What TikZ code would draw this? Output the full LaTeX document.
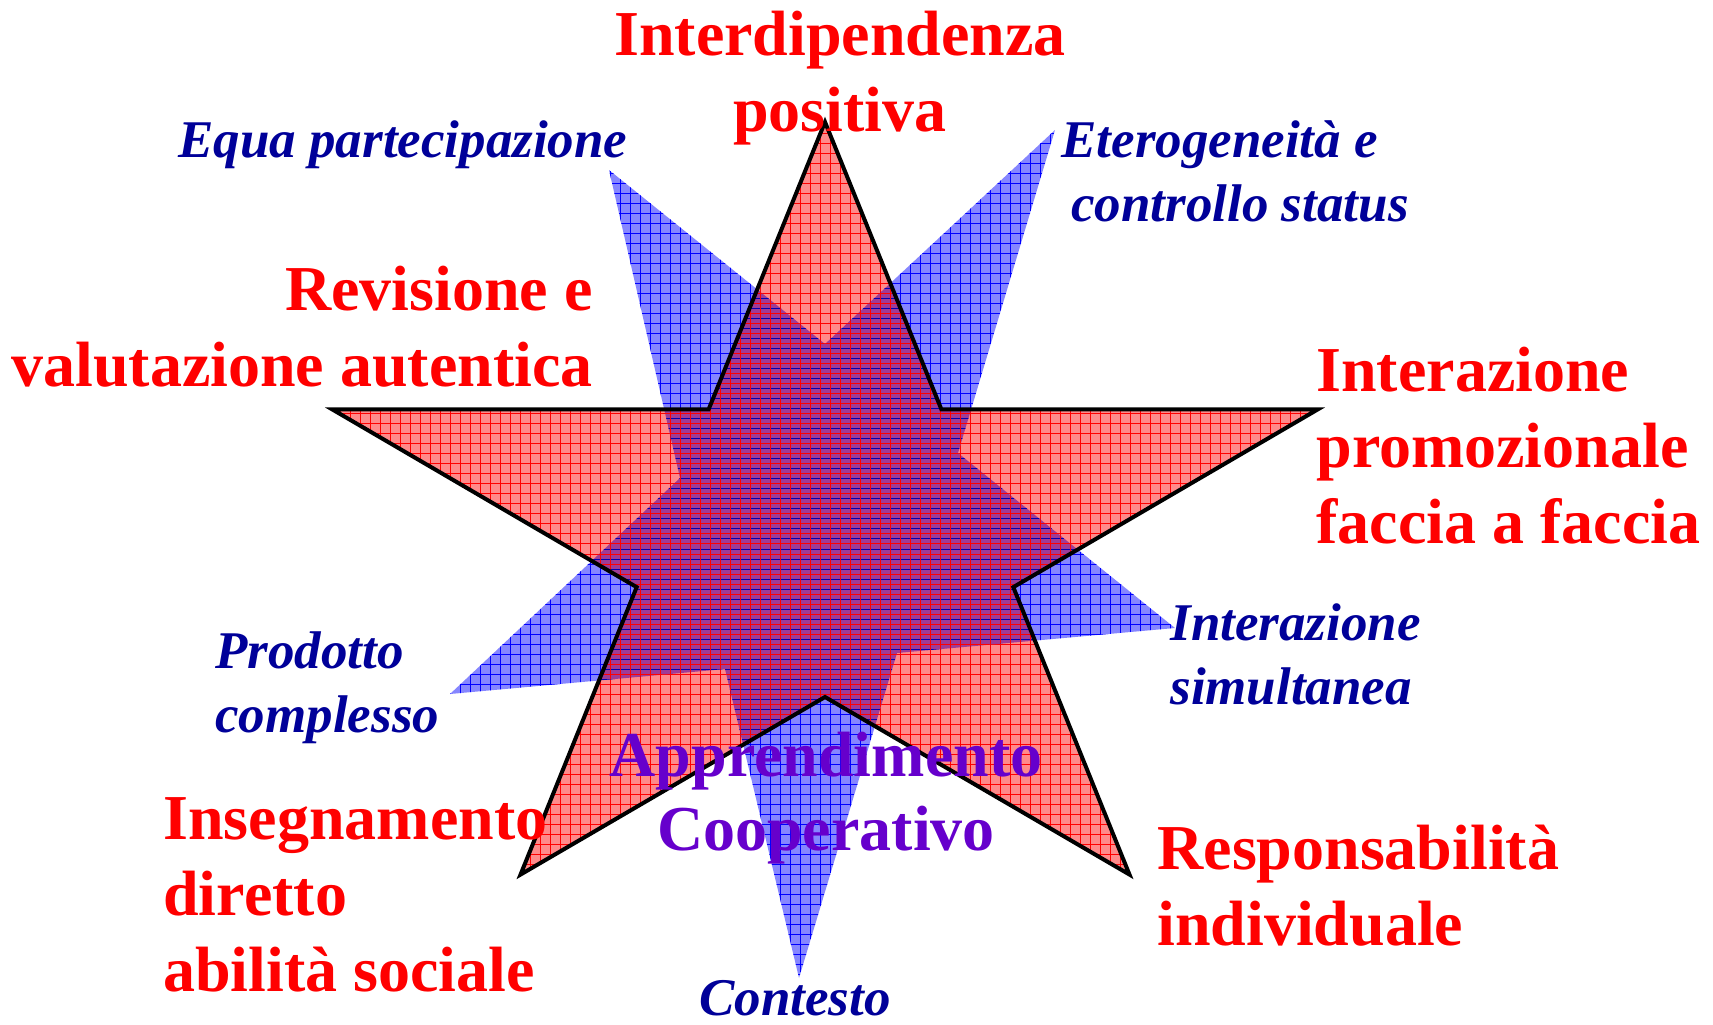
\documentclass[tikz,border=0pt]{standalone}
\usepackage{fontspec}
\setmainfont{Liberation Serif}
\usetikzlibrary{patterns.meta}
\definecolor{stelrossa}{RGB}{255,138,138}
\definecolor{stelblu}{RGB}{134,134,255}
\definecolor{stelviola}{RGB}{158,60,150}
\definecolor{testoblu}{RGB}{0,0,153}
\definecolor{testoviola}{RGB}{102,0,204}
\tikzset{rossa/.style={font=\fontsize{32}{38}\selectfont\bfseries, text=red, inner sep=0pt}}
\tikzset{blu/.style={font=\fontsize{26.5}{32}\selectfont\bfseries\itshape, text=testoblu, inner sep=0pt}}
\tikzset{viola/.style={font=\fontsize{32}{37}\selectfont\bfseries, text=testoviola, inner sep=0pt}}
\tikzset{righe/.style={pattern={Lines[distance=5pt,angle=#1,line width=0.5pt]}}}
\tikzset{retino/.style={postaction={righe=0, pattern color=#1}, postaction={righe=90, pattern color=#1}}}
\tikzset{retinob/.style={postaction={pattern={Lines[distance=5pt,angle=0,line width=0.5pt,yshift=2.5pt]}, pattern color=#1},
    postaction={pattern={Lines[distance=5pt,angle=90,line width=0.5pt,yshift=2.5pt]}, pattern color=#1}}}

\begin{document}
\begin{tikzpicture}[x=0.5pt, y=-0.5pt]
    \useasboundingbox (0,0) rectangle (1713,1024);

    \coordinate (b1) at (609,170);
    \coordinate (b2) at (825,344);
    \coordinate (b3) at (1055,130);
    \coordinate (b4) at (958,453);
    \coordinate (b5) at (1175,628);
    \coordinate (b6) at (897,653);
    \coordinate (b7) at (799,978);
    \coordinate (b8) at (725,669);
    \coordinate (b9) at (450,694);
    \coordinate (b10) at (680,478);

    \begin{scope}[shift={(825,538)}]
        \foreach \k in {0,...,4} {
            \coordinate (r\k) at ({-90+72*\k}:518 and 416);
            \coordinate (i\k) at ({-54+72*\k}:198 and 159);
        }
    \end{scope}

    \path[fill=stelblu, retino=blue]
    (b1) -- (b2) -- (b3) -- (b4) -- (b5) -- (b6) -- (b7) -- (b8) -- (b9) -- (b10) -- cycle;

    \path[fill=stelrossa, retino=red]
    (r0) -- (i0) -- (r1) -- (i1) -- (r2) -- (i2) -- (r3) -- (i3) -- (r4) -- (i4) -- cycle;

    \begin{scope}
        \clip (b1) -- (b2) -- (b3) -- (b4) -- (b5) -- (b6) -- (b7) -- (b8) -- (b9) -- (b10) -- cycle;
        \path[fill=stelviola, retinob=blue!70!black, retino=red]
        (r0) -- (i0) -- (r1) -- (i1) -- (r2) -- (i2) -- (r3) -- (i3) -- (r4) -- (i4) -- cycle;
    \end{scope}

    \draw[line width=2pt]
    (r0) -- (i0) -- (r1) -- (i1) -- (r2) -- (i2) -- (r3) -- (i3) -- (r4) -- (i4) -- cycle;

    \node[rossa, anchor=base, align=center] (interdip) at (840,131) {Interdipendenza\\positiva};
    \node[rossa, anchor=base east, align=right] (revisione) at (593,386) {Revisione e\\valutazione autentica};
    \node[rossa, anchor=base west, align=left] (promozionale) at (1316,543) {Interazione\\promozionale\\faccia a faccia};
    \node[rossa, anchor=base west, align=left] (insegnamento) at (163,991) {Insegnamento\\diretto\\abilità sociale};
    \node[rossa, anchor=base west, align=left] (responsabilita) at (1157,945) {Responsabilità\\individuale};

    \node[blu, anchor=base west] (equa) at (178,157) {Equa partecipazione};
    \node[blu, anchor=base west, align=left] (etero) at (1061,221) {Eterogeneità e\\\hspace{5pt}controllo status};
    \node[blu, anchor=base west, align=left] (simultanea) at (1170,704) {Interazione\\simultanea};
    \node[blu, anchor=base west, align=left] (prodotto) at (215,732) {Prodotto\\complesso};
    \node[blu, anchor=base] (contesto) at (795,1015) {Contesto};

    \node[viola, anchor=base, align=center] (apprendimento) at (826,850) {Apprendimento\\Cooperativo};
\end{tikzpicture}
\end{document}
